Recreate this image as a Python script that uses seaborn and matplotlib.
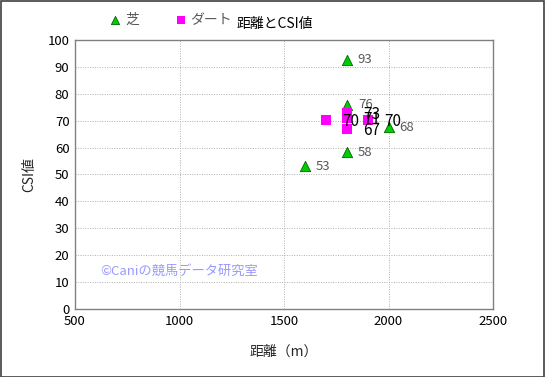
import matplotlib
matplotlib.use("Agg")
import matplotlib.pyplot as plt
import seaborn as sns
import pandas as pd

# data
turf_dist = [1800, 1800, 2000, 1800, 1600]
turf_csi = [92.7, 75.9, 67.6, 58.2, 53.0]
dirt_dist = [1700, 1800, 1800, 1800, 1900]
dirt_csi = [70.4, 73.0, 71.0, 67.0, 70.4]
series_names = ["芝", "ダート"]
x_ticks = [500, 1000, 1500, 2000, 2500]
y_ticks = list(range(0, 101, 10))

sns.set_theme(style="white")
plt.rcParams['font.family'] = ['Noto Sans CJK JP', 'DejaVu Sans']

df_turf = pd.DataFrame({"dist": turf_dist, "csi": turf_csi})
df_dirt = pd.DataFrame({"dist": dirt_dist, "csi": dirt_csi})

fig = plt.figure(figsize=(5.45, 3.77), dpi=100)
ax = fig.add_axes([75/545, 1-309/377, (493-75)/545, (309-40)/377])

sns.scatterplot(data=df_turf, x="dist", y="csi", ax=ax, marker="^", s=55,
                color="#00CC00", edgecolor="#006600", linewidth=0.6, zorder=3,
                label=series_names[0], legend=False)
sns.scatterplot(data=df_dirt, x="dist", y="csi", ax=ax, marker="s", s=55,
                color="#FF00FF", edgecolor="#FF00FF", linewidth=0, zorder=3,
                label=series_names[1], legend=False)

for x, y in zip(turf_dist, turf_csi):
    ax.annotate(f"{y:.0f}", (x, y), xytext=(8, 0), textcoords="offset points",
                va="center", ha="left", fontsize=9.5, color="#595959", zorder=4)
for x, y in zip(dirt_dist, dirt_csi):
    ax.annotate(f"{y:.0f}", (x, y), xytext=(12, -1), textcoords="offset points",
                va="center", ha="left", fontsize=11, color="black", zorder=4)

ax.set_xlim(500, 2500)
ax.set_ylim(0, 100)
ax.set_xticks(x_ticks)
ax.set_yticks(y_ticks)
ax.tick_params(axis="both", labelsize=9.5, colors="black", length=0, pad=4)
ax.grid(True, linestyle=(0, (1, 1.5)), color="#b0b0b0", linewidth=0.7)
for sp in ax.spines.values():
    sp.set_color("#808080")
    sp.set_linewidth(1.0)
    sp.set_visible(True)

ax.set_xlabel("距離（m）", fontsize=10, labelpad=12)
ax.set_ylabel("CSI値", fontsize=10, labelpad=8)

ax.text(0.06, 0.14, "©Caniの競馬データ研究室", transform=ax.transAxes,
        fontsize=9.5, color="#9999FF", ha="left", va="center", zorder=2)

fig.text(275/545, 1-24/377, "距離とCSI値", ha="center", va="center", fontsize=10, color="black")

handles, labels = ax.get_legend_handles_labels()
fig.legend(handles, labels, loc="center left", bbox_to_anchor=(96/545, 1-20/377),
           ncol=2, frameon=False, fontsize=10, handletextpad=-0.3, columnspacing=2.0,
           labelcolor="#595959", markerscale=0.8, borderaxespad=0)

border = plt.Rectangle((0.5/545, 0.5/377), 1-1.5/545, 1-1.5/377, transform=fig.transFigure,
                       fill=False, edgecolor="#404040", linewidth=1.2)
fig.patches.append(border)

fig.savefig("out.png", dpi=100)
